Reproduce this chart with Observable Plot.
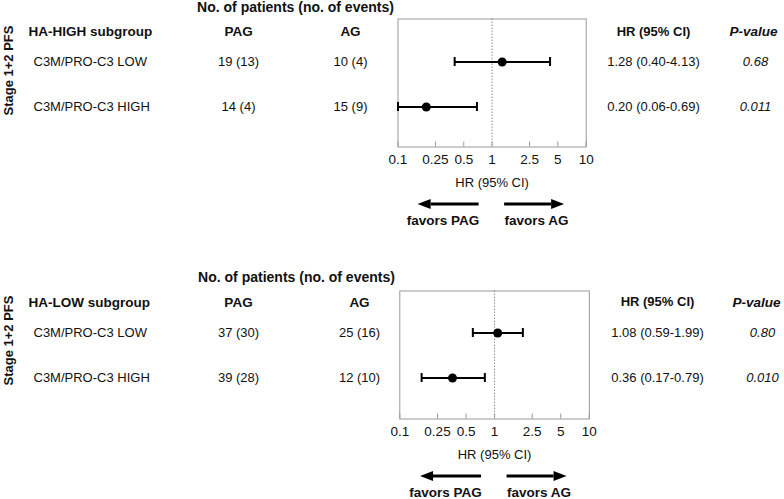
<!DOCTYPE html>
<html><head><meta charset="utf-8">
<script src="https://cdn.jsdelivr.net/npm/d3@7"></script>
<script src="https://cdn.jsdelivr.net/npm/@observablehq/plot@0.6"></script>
<style>
body{margin:0;background:#fff;}
#chart{width:784px;}
#chart svg{display:block;}
g[aria-label="column group title"] text{text-decoration:underline;text-decoration-color:#888;}
</style></head><body><div id="chart"></div>
<script>
// ---- data ----
const stageLabel = "Stage 1+2 PFS";
const groupTitle = "No. of patients (no. of events)";
const subgroupTitles = ["HA-HIGH subgroup", "HA-LOW subgroup"];
const rowLabels = ["C3M/PRO-C3 LOW", "C3M/PRO-C3 HIGH"];
const pagCounts = [["19 (13)", "14 (4)"], ["37 (30)", "39 (28)"]];
const agCounts = [["10 (4)", "15 (9)"], ["25 (16)", "12 (10)"]];
const hrValues = [[1.28, 0.20], [1.08, 0.36]];
const ciLower = [[0.40, 0.06], [0.59, 0.17]];
const ciUpper = [[4.13, 0.69], [1.99, 0.79]];
const pValues = [["0.68", "0.011"], ["0.80", "0.010"]];
const columnHeaders = ["PAG", "AG", "HR (95% CI)", "P-value"];
const xTicks = [0.1, 0.25, 0.5, 1, 2.5, 5, 10];
const xTickLabels = ["0.1", "0.25", "0.5", "1", "2.5", "5", "10"];
const axisLabel = "HR (95% CI)";
const favorsLabels = ["favors PAG", "favors AG"];
const nullHR = 1;

// ---- layout ----
const FONT = "'Liberation Sans', Arial, Helvetica, sans-serif";
const frameTop = 18.5, axisY = 146.5;
const layouts = [
  {height: 272, ml: 397.5, mr: 198.3, rowRange: [39, 129], titleY: 7.5, headY: 31, stageY: 70,
   cols: {title: 28, label: 33, pag: 238, ag: 350, hr: 653, p: 755, pHead: 753, group: 295, stage: 8.5}},
  {height: 227, ml: 399.3, mr: 195.2, rowRange: [37.5, 127.5], titleY: 5, headY: 29.7, stageY: 68,
   cols: {title: 28, label: 33, pag: 238, ag: 359, hr: 657, p: 762, pHead: 756, group: 296, stage: 8.5}}
];

const fmt = (v) => v.toFixed(2);

function favorsArrows(index, scales) {
  const x0 = scales.x(nullHR);
  const y = axisY + 57.5;
  const g = d3.create("svg:g").attr("aria-label", "favors arrows");
  for (const [tail, tip] of [[x0 - 13, x0 - 74], [x0 + 12.5, x0 + 72.5]]) {
    const dir = Math.sign(tip - tail), head = 13;
    g.append("line").attr("x1", tail).attr("x2", tip - dir * head)
      .attr("y1", y).attr("y2", y).attr("stroke", "#000").attr("stroke-width", 3);
    g.append("path").attr("fill", "#000")
      .attr("d", `M${tip},${y}L${tip - dir * head},${y - 5}L${tip - dir * head},${y + 5}Z`);
  }
  return g.node();
}

layouts.forEach((L, p) => {
  const rows = rowLabels.map((label, i) => ({
    label,
    pag: pagCounts[p][i],
    ag: agCounts[p][i],
    hr: hrValues[p][i],
    lo: ciLower[p][i],
    hi: ciUpper[p][i],
    pv: pValues[p][i],
    hrText: `${fmt(hrValues[p][i])} (${fmt(ciLower[p][i])}-${fmt(ciUpper[p][i])})`
  }));
  const c = L.cols;
  const base = {fill: "#111", fontSize: 13, lineAnchor: "middle"};
  const colText = (key, x, extra = {}) =>
    Plot.text(rows, {...base, y: "label", text: key, frameAnchor: "left", dx: x - L.ml, textAnchor: "middle", ...extra});
  const header = (str, x, extra = {}) =>
    Plot.text([str], {...base, text: (d) => d, frameAnchor: "top-left", dx: x - L.ml, dy: L.headY - frameTop,
      textAnchor: "middle", fontWeight: "bold", fontSize: 13.5, ...extra});

  const chart = Plot.plot({
    width: 784,
    height: L.height,
    marginLeft: L.ml,
    marginRight: L.mr,
    marginTop: frameTop,
    marginBottom: L.height - axisY,
    style: {fontFamily: FONT, fontSize: "13.5px", color: "#111", background: "#fff", overflow: "visible"},
    x: {type: "log", domain: [0.1, 10], clamp: true, ticks: xTicks,
        tickFormat: (d) => xTickLabels[xTicks.indexOf(d)], tickSize: 0, tickPadding: 7, label: null},
    y: {type: "band", domain: rowLabels, range: L.rowRange, padding: 0, axis: null},
    marks: [
      Plot.frame({stroke: "#999", strokeWidth: 1}),
      Plot.ruleX([nullHR], {stroke: "#777", strokeWidth: 0.8, strokeDasharray: "1.5,1.5"}),
      Plot.ruleX(xTicks, {stroke: "#999", strokeWidth: 1, insetTop: axisY - frameTop - 5}),
      Plot.ruleY(rows, {y: "label", x1: "lo", x2: "hi", stroke: "#000", strokeWidth: 2}),
      Plot.tickX(rows, {x: "lo", y: "label", stroke: "#000", strokeWidth: 2, insetTop: 18, insetBottom: 18}),
      Plot.tickX(rows, {x: "hi", y: "label", stroke: "#000", strokeWidth: 2, insetTop: 18, insetBottom: 18}),
      Plot.dot(rows, {x: "hr", y: "label", r: 4.5, fill: "#000", stroke: null}),
      // table columns
      colText("label", c.label, {textAnchor: "start"}),
      colText("pag", c.pag),
      colText("ag", c.ag),
      colText("hrText", c.hr),
      colText("pv", c.p, {fontStyle: "italic"}),
      // headers
      Plot.text([groupTitle], {...base, text: (d) => d, frameAnchor: "top-left", dx: c.group - L.ml,
        dy: L.titleY - frameTop, textAnchor: "middle", fontWeight: "bold", fontSize: 14, ariaLabel: "column group title"}),
      header(subgroupTitles[p], c.title, {textAnchor: "start"}),
      header(columnHeaders[0], c.pag),
      header(columnHeaders[1], c.ag),
      header(columnHeaders[2], c.hr, {fontSize: 13}),
      header(columnHeaders[3], c.pHead, {fontStyle: "italic"}),
      Plot.text([stageLabel], {...base, text: (d) => d, frameAnchor: "left", dx: c.stage - L.ml,
        dy: L.stageY - (frameTop + axisY) / 2, rotate: -90, textAnchor: "middle", fontWeight: "bold", fontSize: 13}),
      // axis label and favors labels
      Plot.text([axisLabel], {...base, text: (d) => d, x: () => nullHR, frameAnchor: "bottom",
        dy: 36, textAnchor: "middle", fontSize: 13}),
      Plot.text([favorsLabels[0]], {...base, text: (d) => d, x: () => nullHR, frameAnchor: "bottom",
        dx: -49, dy: 74, textAnchor: "middle", fontWeight: "bold", fontSize: 13.5}),
      Plot.text([favorsLabels[1]], {...base, text: (d) => d, x: () => nullHR, frameAnchor: "bottom",
        dx: 44.5, dy: 74, textAnchor: "middle", fontWeight: "bold", fontSize: 13.5}),
      favorsArrows
    ]
  });
  document.getElementById("chart").appendChild(chart);
});
</script></body></html>
